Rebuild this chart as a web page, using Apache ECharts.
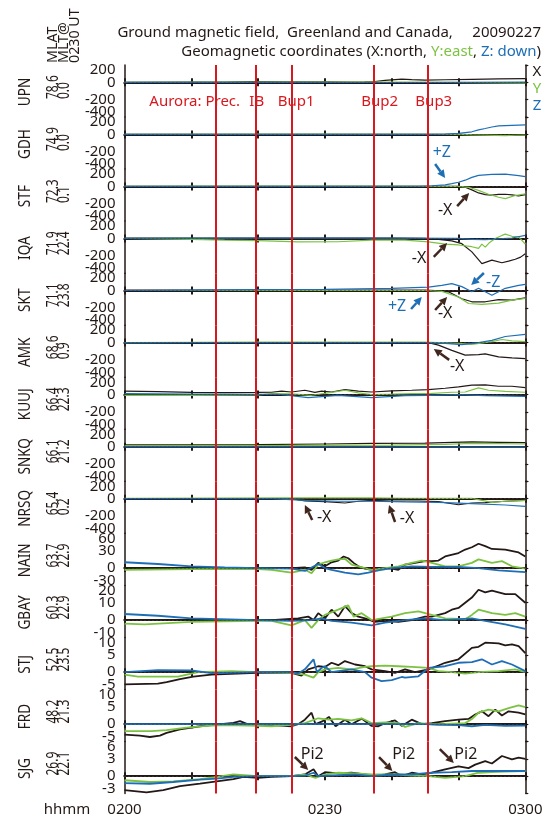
<!DOCTYPE html>
<html>
<head>
<meta charset="utf-8">
<title>Ground magnetic field, Greenland and Canada, 20090227</title>
<script src="https://cdn.jsdelivr.net/npm/echarts@6/dist/echarts.min.js"></script>
<style>
  html, body { margin: 0; padding: 0; background: #fff; }
  #chart { width: 544px; height: 822px; }
</style>
</head>
<body>
<div id="chart"></div>
<script>
// station list, top to bottom
const stations = ['UPN', 'GDH', 'STF', 'IQA', 'SKT', 'AMK', 'KUUJ', 'SNKQ', 'NRSQ', 'NAIN', 'GBAY', 'STJ', 'FRD', 'SJG'];
const mlat = ['78.6', '74.9', '72.3', '71.9', '71.1', '68.6', '66.4', '66.1', '65.4', '63.7', '60.3', '52.5', '48.2', '26.9'];
const mlt = ['0.0', '0.0', '0.1', '22.4', '23.8', '0.9', '22.3', '21.2', '0.2', '22.9', '22.9', '23.5', '21.3', '22.1'];

// y ranges (nT)
const yMin = [-400, -400, -400, -400, -400, -400, -400, -400, -400, -30, -10, -5, -5, -3];
const yMax = [200, 200, 200, 200, 200, 200, 200, 200, 200, 60, 20, 10, 10, 6];
const yStep = [200, 200, 200, 200, 200, 200, 200, 200, 200, 30, 10, 5, 5, 3];

// time axis: minutes after 0200 UT
const timeTicks = [0, 30, 60];
const timeLabels = ['0200', '0230', '0300'];

// event times (minutes after 0200) and their labels
const eventTimes = [13.7, 19.7, 25.1, 37.3, 45.4];
const eventNames = ['Aurora: Prec.', 'IB', 'Bup1', 'Bup2', 'Bup3'];

// [minute, nT]
const upnX = [[0,0],[10,2],[15,4],[19,8],[24,6],[30,5],[34,4],[36,6],[37.5,10],[39,22],[41.5,38],[43,32],[45,26],[48,30],[52,35],[56,40],[60,42]];
const upnY = [[0,0],[20,2],[40,2],[48,0],[52,-3],[56,-6],[60,-8]];
const upnZ = [[0,0],[20,0],[40,-2],[50,0],[60,2]];

const gdhX = [[0,0],[20,0],[40,0],[50,0],[53,-4],[56,-10],[58,-5],[60,-3]];
const gdhY = [[0,0],[30,3],[50,0],[52,-5],[54,-8],[57,-15],[58.5,-10],[60,-8]];
const gdhZ = [[0,0],[30,0],[46,0],[48,4],[50,12],[52,30],[53,52],[54,68],[55,85],[56,98],[58,105],[60,110]];

const stfX = [[0,0],[30,0],[45,0],[50,0],[51,-10],[52,-40],[53,-75],[54,-95],[55,-100],[56,-92],[57,-90],[58,-98],[59,-110],[60,-95]];
const stfY = [[0,0],[20,3],[40,3],[50,0],[51.5,-10],[53,-45],[54.5,-90],[56,-125],[57,-140],[58.5,-105],[60,-85]];
const stfZ = [[0,0],[30,0],[44,2],[46,8],[48,18],[49,32],[50,48],[51,72],[52,104],[53,128],[55,138],[57,142],[59,125],[60,112]];

const iqaX = [[0,5],[10,5],[20,3],[30,5],[40,3],[45,0],[47,-12],[49,-27],[50.5,-60],[52,-155],[53.5,-290],[55,-250],[56.5,-280],[57.5,-262],[58.5,-240],[59.3,-215],[60,-175]];
const iqaY = [[0,0],[5,-5],[10,-10],[15,-20],[20,-25],[26,-40],[32,-38],[37,-20],[42,-20],[45.5,-40],[48,-65],[50,-75],[52,-95],[53,-115],[53.5,-65],[54,-100],[54.6,-50],[55.5,0],[56.5,35],[57,50],[58,25],[59,20],[60,-65]];
const iqaZ = [[0,0],[20,5],[40,3],[50,0],[52,-10],[54,-15],[56,-5],[58,5],[60,35]];

const sktX = [[0,5],[30,5],[45,5],[46.5,0],[48.5,-15],[50.5,-95],[52,-130],[54,-130],[56,-105],[58,-110],[60,-85]];
const sktY = [[0,0],[30,0],[45,0],[47.5,-10],[50,-75],[51.5,-150],[53.5,-160],[56,-145],[58,-110],[60,-90]];
const sktZ = [[0,0],[10,5],[20,10],[30,12],[40,25],[45.5,40],[47.5,60],[49,80],[50.5,45],[52,-15],[53,25],[55,-55],[57,25],[59,60],[60,70]];

const amkX = [[0,0],[45.5,0],[47,-30],[49,-90],[51,-145],[53,-140],[54,-130],[56,-165],[58,-177],[60,-185]];
const amkY = [[0,0],[20,5],[45,5],[50,-10],[52,-20],[55,10],[56.5,35],[58,20],[60,10]];
const amkZ = [[0,0],[45,0],[48,-10],[50.5,-25],[53,0],[55,25],[57,70],[60,95]];

const kuujX = [[0,40],[5,35],[10,25],[15,22],[20,25],[22,27],[23.5,40],[25,30],[27,50],[28.5,25],[29.5,40],[31,30],[33,58],[35,40],[37,30],[40,42],[43,50],[45.5,58],[48,73],[50,88],[52,108],[54,112],[56,96],[58,96],[60,80]];
const kuujY = [[0,-8],[10,-8],[20,-5],[22,12],[25,8],[28,-8],[31,25],[33,50],[35,20],[37,0],[40,5],[43,12],[45.5,12],[49,27],[51,30],[53,77],[54.5,50],[57,38],[60,27]];
const kuujZ = [[0,10],[10,5],[20,3],[23,4],[27.5,-35],[32,-8],[37,-35],[42,-12],[45.5,-8],[50,0],[54,-12],[60,-20]];

const snkqX = [[0,20],[10,20],[20,22],[30,30],[37,38],[45,40],[52,55],[56,50],[60,46]];
const snkqY = [[0,10],[20,12],[30,15],[40,18],[48,25],[52,38],[56,35],[60,30]];
const snkqZ = [[0,-3],[30,-3],[60,-5]];

const nrsqX = [[0,0],[25,0],[27,-27],[30,-35],[33,-50],[35,-30],[37,-20],[40,-27],[44,-27],[47,-35],[50,-70],[52,-50],[54,-45],[57,-30],[60,-20]];
const nrsqY = [[0,5],[25,8],[37,8],[42,5],[47,3],[52,3],[55,-42],[57,-30],[60,-20]];
const nrsqZ = [[0,0],[22,0],[27,-20],[32,-30],[37,-30],[42,-38],[47,-42],[52,-58],[57,-73],[60,-88]];

const nainX = [[0,-1],[10,-1],[20,0],[22,0],[25,0],[27,1],[28,-3],[29,9],[30,3],[31,10],[32,13],[32.8,20],[33.5,17],[34.3,9],[35,3],[36,-1],[37,-3],[38.5,0],[40,-1],[41,-3],[42,6],[43.5,9],[45,12],[46,12],[47,13],[48,20],[50,26],[51,32],[52,36],[53,42],[54,38],[55,33],[57,32],[59,27],[60,20]];
const nainY = [[0,-3],[10,-2],[20,-2],[22,-3],[25,-8],[27,-3],[28,-9],[29,6],[30,10],[31,13],[32,15],[33,16],[34,6],[35,3],[37,-3],[39,0],[41,3],[43,9],[44.5,13],[46,9],[48,3],[50,3],[52,9],[53,15],[55,9],[56.5,12],[58,3],[60,-1]];
const nainZ = [[0,10],[5,7],[10,3],[15,1],[20,0],[25,-1],[27,-5],[29,7],[30,0],[31,-3],[33,-8],[35,-11],[36.5,-8],[38,-4],[40,0],[43,3],[46,2],[50,2],[53,0],[56,-4],[60,-7]];

const gbayX = [[0,0],[10,0],[20,0],[22,0],[26,1],[27.5,2],[28.3,0],[29,4],[30,1],[31,6],[32,2],[33,8],[34,4],[35,2],[36,1],[37.5,-1],[39,-0.5],[41,-1],[43,0],[45,2],[46,2],[48,4],[49,6],[50,7],[51,10],[52,13],[53,17.5],[54,16],[55,17],[57,15],[58.5,15],[60,10]];
const gbayY = [[0,-2],[3,-2.5],[10,-1],[20,-0.5],[22,-0.5],[25,-3],[27,0],[28,-4.5],[29,0],[30,3],[32,6],[33.5,8.5],[34.3,2],[35.5,4],[37,0],[38.5,1],[40,2],[42,4],[44,5],[46,3],[48,1],[51,0.5],[52,3],[53,6],[55,4],[57,3],[58.5,4],[60,2]];
const gbayZ = [[0,3.5],[5,2.5],[10,1],[20,0],[25,-0.5],[28,0],[29.5,1],[31,-0.5],[34,-1.5],[37,-3],[39,-1.5],[42,0],[45,1],[48,0],[52,1],[54,-0.5],[57,-2.5],[60,-5]];

const stjX = [[0,-3.5],[5,-3.3],[6.3,-2.9],[8.3,-2],[10.3,-1.3],[13,-0.7],[19.8,-0.2],[25,-0.2],[26.5,-1],[27.5,0.8],[29,1.7],[30,1.5],[31,2.7],[32,2],[33,3.2],[34.5,2.2],[36,1.7],[37,0.8],[39,0.3],[40.5,-0.2],[42,0.8],[43.5,0],[45.5,0.8],[47,1.9],[48,2.7],[50,3.7],[52,7],[53,7.3],[54,8.5],[56,8.3],[57,7.7],[58,8],[59,7.5],[60,5.5]];
const stjY = [[0,-0.7],[2,-1.3],[8,-1.3],[11,0],[16,0.3],[20,0],[25,-0.2],[27,-0.7],[28.3,-1.6],[29,0],[30,0.8],[32,1.2],[34,0.8],[36,1.5],[37,1.7],[39,1.9],[41,1.7],[43,1.5],[45.5,1.2],[47,0.3],[49,0],[51,-0.4],[53,0],[56,0.3],[58.5,0.8],[60,0]];
const stjZ = [[0,0],[5,0.6],[10,0.5],[13,-0.3],[20,0],[25,0],[26,-0.4],[27,0.8],[28.3,3.7],[28.8,0],[29.5,1.2],[30,1.7],[31,0],[32,0.3],[34,0.8],[36,0],[37,-1.6],[38.5,-2.6],[40,-2.3],[41.5,-1.4],[42,-1.6],[44,-1.2],[45.5,1.2],[48,1.7],[50,2.7],[52,2.9],[53.5,3.7],[55,2.2],[56.5,3.2],[58,2.2],[60,0.3]];

const frdX = [[0,-3],[2.3,-3.3],[3.8,-3.7],[5.3,-3.3],[6.3,-2.5],[8.3,-1.5],[11.3,-0.6],[13.3,-0.2],[16.3,0.4],[17.3,0.9],[18.3,0.1],[20,-0.2],[22,-0.3],[25,-0.6],[26,0],[27,1.3],[28,3.3],[28.6,0],[29.6,0.8],[30.6,2.1],[31.6,-0.6],[33,1.3],[34,0],[35.5,1.6],[37,-0.5],[38,-0.6],[39,0.3],[40.5,1.1],[41.5,-0.5],[43,1.3],[44.5,0],[46,0.3],[48,0.9],[50,1.3],[51.5,1.5],[52.5,2.8],[53.5,3.7],[54.5,2.3],[55.5,4.2],[56.5,2.5],[57.5,3.7],[59,3.3],[60,2.8]];
const frdY = [[0,-2],[4,-2],[6.3,-1.7],[9.3,-1],[12.3,-0.5],[15.3,-0.3],[20,-0.5],[22,-0.6],[25,-0.2],[27,0.3],[29,1.7],[30.6,1.3],[32,1.5],[34,1.1],[35.5,1.7],[37,0.3],[39,0.5],[41,0.3],[42,-0.8],[44,0.3],[46,0],[48,0.1],[51,0.3],[52,1.5],[53,3.3],[54.5,4.2],[56,3.7],[57.5,4.6],[59,5.4],[60,4.9]];
const frdZ = [[0,0],[45,0],[47,-0.2],[50,-0.3],[52,-0.6],[54,-0.2],[57,-0.5],[60,-0.4]];

const sjgX = [[0,-2.4],[3.3,-2.8],[5.8,-2.4],[8.3,-1.7],[11.3,-1.3],[13.8,-0.9],[16.3,-0.5],[17.8,-0.1],[20,-0.3],[22,-0.1],[25,0],[27,0.3],[28.3,1.2],[29,0],[30,0.7],[32,0.5],[34,0.6],[36,0.3],[37.5,0],[39,0.3],[40.5,0.7],[41.5,0],[43,0.6],[44.5,0.3],[46,0.6],[48,1.2],[50,1.7],[51.5,1.4],[52.5,2],[54,2.6],[55,2.2],[56.5,3.5],[58,2.9],[59,3.2],[60,3]];
const sjgY = [[0,-0.7],[3.8,-1],[7.3,-0.9],[11.3,-0.5],[13.8,-0.1],[16.3,0.3],[20,0],[25,0],[27,0.3],[28.6,-0.3],[30,0.3],[32,0.6],[34.5,0.5],[37,0.3],[41,0.3],[43,0.1],[45.5,0],[48,-0.3],[51,0],[53,0.6],[55,0.7],[57,0.8],[60,0.9]];
const sjgZ = [[0,-1.2],[3.8,-1.3],[7.3,-1],[11.3,-0.6],[13.8,-0.4],[16.3,-0.1],[20,0],[25,0],[27,0.1],[28.3,0.6],[29,0],[32,0.2],[34.5,0.3],[37,0],[40,0.3],[43,0.3],[46,0.6],[49,0.7],[52,0.9],[55,0.9],[60,0.9]];

const xData = [upnX, gdhX, stfX, iqaX, sktX, amkX, kuujX, snkqX, nrsqX, nainX, gbayX, stjX, frdX, sjgX];
const yData = [upnY, gdhY, stfY, iqaY, sktY, amkY, kuujY, snkqY, nrsqY, nainY, gbayY, stjY, frdY, sjgY];
const zData = [upnZ, gdhZ, stfZ, iqaZ, sktZ, amkZ, kuujZ, snkqZ, nrsqZ, nainZ, gbayZ, stjZ, frdZ, sjgZ];

// annotations in data space: [panel, minute, nT, ...]
const noteArrows = [
  [2, 46.5, 258, 48.0, 97, 'z'],
  [2, 49.8, -226, 51.6, -76, 'x'],
  [3, 46.3, -213, 48.3, -52, 'x'],
  [4, 53.8, 202, 51.9, 63, 'z'],
  [4, 42.9, -213, 44.5, -75, 'z'],
  [4, 46.5, -225, 48.3, -75, 'x'],
  [5, 48.6, -200, 46.3, -74, 'x'],
  [8, 28.1, -246, 27.0, -73, 'x'],
  [8, 40.5, -269, 39.6, -73, 'x'],
  [13, 25.5, 3.32, 27.5, 1.07, 'x'],
  [13, 38.1, 3.32, 40.1, 0.9, 'x'],
  [13, 47.2, 4.7, 49.3, 2.28, 'x']
];
const noteTexts = [
  [2, 47.5, 397, '+Z', 'z'],
  [2, 48.0, -272, '-X', 'x'],
  [3, 44.1, -236, '-X', 'x'],
  [4, 55.2, 98, '-Z', 'z'],
  [4, 40.8, -179, '+Z', 'z'],
  [4, 48.0, -259, '-X', 'x'],
  [5, 49.8, -281, '-X', 'x'],
  [8, 29.9, -211, '-X', 'x'],
  [8, 42.3, -223, '-X', 'x'],
  [13, 28.1, 3.84, 'Pi2', 'x'],
  [13, 41.8, 3.84, 'Pi2', 'x'],
  [13, 51.1, 3.84, 'Pi2', 'x']
];
// where the event names sit in the top panel: [minute, nT, align]
const eventLabelAt = [[17.3, -220, 'right'], [19.8, -220, 'center'], [25.7, -220, 'center'], [38.2, -220, 'center'], [46.3, -220, 'center']];

(function () {
  'use strict';

  const FONT = '"Noto Sans", "DejaVu Sans", sans-serif';
  const INK = '#231815';
  const colors = { x: INK, y: '#7cc242', z: '#1e6eb6', red: '#d7191f', arrowX: '#40261d' };

  const TOP = 65, H = 52.04, LEFT = 124.5, RIGHT = 18.7;
  const n = stations.length;

  const grids = [], xAxes = [], yAxes = [], series = [];
  const labelStyle = { color: INK, fontSize: 15, lineHeight: 10, fontFamily: FONT, margin: 9 };

  for (let i = 0; i < n; i++) {
    grids.push({ left: LEFT, right: RIGHT, top: TOP + H * i, height: H, outerBoundsMode: 'none' });

    const last = i === n - 1;
    const baseX = {
      type: 'value', gridIndex: i, min: 0, max: 60, interval: 10,
      axisLine: { show: true, lineStyle: { color: INK, width: 2 } },
      axisTick: { show: true, inside: true, length: 4, lineStyle: { color: INK, width: 2 } },
      splitLine: { show: false }
    };
    xAxes.push(Object.assign({}, baseX, {
      position: 'bottom',
      axisLabel: {
        show: last, margin: 9, color: INK, fontSize: 15, fontFamily: FONT,
        showMinLabel: true, showMaxLabel: true,
        formatter: function (v) {
          const k = timeTicks.indexOf(v);
          return k >= 0 ? timeLabels[k] : '';
        }
      }
    }));
    xAxes.push(Object.assign({}, baseX, { position: 'top', axisLabel: { show: false } }));

    const baseY = {
      type: 'value', gridIndex: i, min: yMin[i], max: yMax[i], interval: yStep[i],
      splitLine: { show: false }
    };
    // left axis: carries the line and the end labels
    yAxes.push(Object.assign({}, baseY, {
      position: 'left',
      axisLine: { show: true, lineStyle: { color: INK, width: 1.5 } },
      axisTick: { show: false },
      axisLabel: Object.assign({}, labelStyle, {
        showMinLabel: true, showMaxLabel: true,
        verticalAlignMinLabel: 'bottom', verticalAlignMaxLabel: 'top',
        formatter: function (v) { return (v === yMin[i] || v === yMax[i]) ? String(v) : ''; }
      })
    }));
    // second left axis: inner labels only
    yAxes.push(Object.assign({}, baseY, {
      position: 'left',
      axisLine: { show: false },
      axisTick: { show: false },
      axisLabel: Object.assign({}, labelStyle, { showMinLabel: false, showMaxLabel: false })
    }));
    // right axis: outward ticks
    yAxes.push(Object.assign({}, baseY, {
      position: 'right',
      axisLine: { show: true, lineStyle: { color: INK, width: 1.5 } },
      axisTick: { show: true, inside: false, length: 3, lineStyle: { color: INK, width: 1.2 } },
      axisLabel: { show: false }
    }));

    const lw = i < 9 ? 1.2 : 1.8;
    [[xData[i], colors.x], [yData[i], colors.y], [zData[i], colors.z]].forEach(function (pair, k) {
      const s = {
        type: 'line', xAxisIndex: 2 * i, yAxisIndex: 3 * i,
        data: pair[0], symbol: 'none', showSymbol: false, smooth: false,
        lineStyle: { color: pair[1], width: lw }, itemStyle: { color: pair[1] },
        silent: true, z: 3
      };
      if (k === 0) {
        s.markLine = {
          silent: true, symbol: 'none', animation: false, label: { show: false },
          lineStyle: { color: '#444', type: [1, 3], width: 1 },
          data: [{ yAxis: 0 }]
        };
      }
      if (k === 2) {
        s.markLine = {
          silent: true, symbol: 'none', animation: false, label: { show: false },
          lineStyle: { color: colors.red, type: 'solid', width: 2 },
          data: eventTimes.map(t => ({ xAxis: t }))
        };
      }
      series.push(s);
    });
  }

  const chart = echarts.init(document.getElementById('chart'));
  chart.setOption({
    animation: false,
    backgroundColor: '#fff',
    grid: grids, xAxis: xAxes, yAxis: yAxes, series: series
  });

  function px(panel, t, v) {
    return chart.convertToPixel({ seriesIndex: 3 * panel }, [t, v]);
  }

  function text(x, y, str, opts) {
    return Object.assign({
      type: 'text', x: x, y: y, silent: true, z: 20,
      style: Object.assign({
        text: str, fill: INK, font: '15px ' + FONT,
        align: 'center', verticalAlign: 'middle',
        textAlign: 'center', textVerticalAlign: 'middle'
      }, opts.style || {})
    }, opts.el || {});
  }

  function arrow(p0, p1, color) {
    const dx = p1[0] - p0[0], dy = p1[1] - p0[1];
    const len = Math.hypot(dx, dy), ux = dx / len, uy = dy / len;
    const head = 8, half = 4;
    const bx = p1[0] - ux * head, by = p1[1] - uy * head;
    return [
      { type: 'line', silent: true, z: 20, shape: { x1: p0[0], y1: p0[1], x2: bx, y2: by }, style: { stroke: color, lineWidth: 2.5 } },
      { type: 'polygon', silent: true, z: 20, shape: { points: [[p1[0], p1[1]], [bx - uy * half, by + ux * half], [bx + uy * half, by - ux * half]] }, style: { fill: color } }
    ];
  }

  const g = [];

  // title lines
  g.push(text(541, 33, 'Ground magnetic field,  Greenland and Canada,     20090227', { style: { align: 'right', textAlign: 'right' }, el: { scaleY: 0.9 } }));
  g.push(text(541, 52, '{k|Geomagnetic coordinates (X:north, }{g|Y:east}{k|, }{b|Z: down}{k|)}', {
    style: {
      align: 'right', textAlign: 'right',
      rich: {
        k: { fill: INK, font: '15px ' + FONT },
        g: { fill: colors.y, font: '15px ' + FONT },
        b: { fill: colors.z, font: '15px ' + FONT }
      }
    },
    el: { scaleY: 0.9 }
  }));

  // header of the station columns
  [['MLAT', 53], ['MLT@', 64], ['0230 UT', 75]].forEach(function (h) {
    g.push(text(h[1], 63, h[0], { style: { align: 'left', textAlign: 'left' }, el: { rotation: Math.PI / 2, scaleX: 0.95 } }));
  });

  // station labels
  for (let i = 0; i < n; i++) {
    const cy = TOP + H * i + H / 2;
    g.push(text(25, cy + 1, stations[i], { style: { font: '17px ' + FONT }, el: { rotation: Math.PI / 2, scaleX: 0.8 } }));
    g.push(text(53, cy + 8, mlat[i], { style: { font: '16px ' + FONT, align: 'left', textAlign: 'left' }, el: { rotation: Math.PI / 2, scaleX: 0.75 } }));
    g.push(text(64, cy + 8, mlt[i], { style: { font: '16px ' + FONT, align: 'left', textAlign: 'left' }, el: { rotation: Math.PI / 2, scaleX: 0.75 } }));
  }

  // component key
  g.push(text(537, 72, 'X', { style: { fill: colors.x } }));
  g.push(text(537, 89, 'Y', { style: { fill: colors.y } }));
  g.push(text(537, 106, 'Z', { style: { fill: colors.z } }));

  // time unit
  g.push(text(67, 810, 'hhmm', {}));

  // event names
  eventNames.forEach(function (name, k) {
    const p = px(0, eventLabelAt[k][0], eventLabelAt[k][1]);
    const al = eventLabelAt[k][2];
    g.push(text(p[0], p[1], name, { style: { fill: colors.red, align: al, textAlign: al } }));
  });

  // arrows and their labels
  noteArrows.forEach(function (a) {
    const c = a[5] === 'z' ? colors.z : colors.arrowX;
    arrow(px(a[0], a[1], a[2]), px(a[0], a[3], a[4]), c).forEach(e => g.push(e));
  });
  noteTexts.forEach(function (t) {
    const p = px(t[0], t[1], t[2]);
    g.push(text(p[0], p[1], t[3], { style: { fill: t[4] === 'z' ? colors.z : INK, font: '16px ' + FONT } }));
  });

  chart.setOption({ graphic: { elements: g } });
})();
</script>
</body>
</html>
